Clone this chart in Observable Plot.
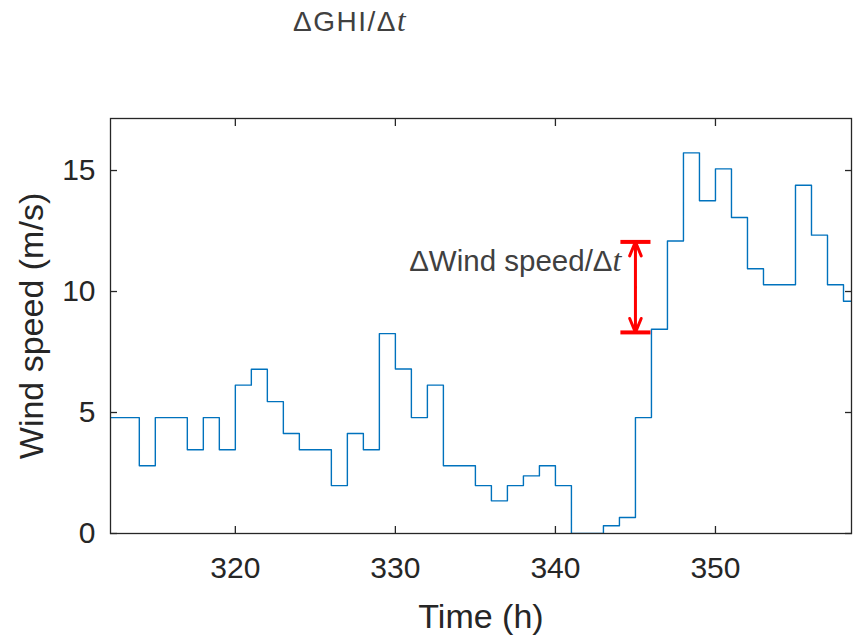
<!DOCTYPE html>
<html>
<head>
<meta charset="utf-8">
<script src="https://cdn.jsdelivr.net/npm/d3@7"></script>
<script src="https://cdn.jsdelivr.net/npm/@observablehq/plot@0.6"></script>
<style>
  html, body { margin: 0; padding: 0; background: #fff; }
  #wrap { position: relative; width: 854px; height: 637px; overflow: hidden; }
  #title { position: absolute; left: 293px; top: 3px; font-family: "Liberation Sans", Arial, sans-serif; font-size: 28px; color: #404040; white-space: nowrap; letter-spacing: 1.5px; }
  #title i { font-family: "Liberation Serif", "Times New Roman", serif; font-style: italic; font-size: 31px; }
  #chart { position: absolute; left: 0; top: 40px; }
</style>
</head>
<body>
<div id="wrap">
  <div id="title">ΔGHI/Δ<i>t</i></div>
  <div id="chart"></div>
</div>
<script>
// Hourly wind speed (step-after), m/s
const hours = [312,313,314,315,316,317,318,319,320,321,322,323,324,325,326,327,328,329,330,331,332,333,334,335,336,337,338,339,340,341,342,343,344,345,346,347,348,349,350,351,352,353,354,355,356,357,358,359];
const windSpeed = [4.79,4.79,2.80,4.79,4.79,3.46,4.79,3.46,6.13,6.79,5.45,4.13,3.46,3.46,1.98,4.13,3.46,8.26,6.80,4.79,6.13,2.80,2.80,1.98,1.35,1.98,2.38,2.80,1.98,0,0,0.32,0.66,4.79,8.44,12.09,15.73,13.75,15.07,13.06,10.94,10.28,10.28,14.39,12.33,10.28,9.60,9.60];

const xTicks = [320, 330, 340, 350];
const yTicks = [0, 5, 10, 15];

// Annotation (ΔWind speed / Δt)
const arrowX = 345;
const arrowTop = 12.05;
const arrowBottom = 8.31;
const arrowHalfWidth = 0.94;
const annotationLabel = "ΔWind speed/Δt";

const data = hours.map((h, i) => ({hour: h, speed: windSpeed[i]}));
const arrowMid = (arrowTop + arrowBottom) / 2;
const bars = [{x1: arrowX - arrowHalfWidth, x2: arrowX + arrowHalfWidth, y: arrowTop},
              {x1: arrowX - arrowHalfWidth, x2: arrowX + arrowHalfWidth, y: arrowBottom}];
const arrows = [{x: arrowX, y1: arrowMid, y2: arrowTop}, {x: arrowX, y1: arrowMid, y2: arrowBottom}];

const axisColor = "#262626";

const chart = Plot.plot({
  width: 854,
  height: 597,
  marginTop: 78,
  marginLeft: 110,
  marginRight: 3,
  marginBottom: 104,
  style: {fontFamily: "'Liberation Sans', Arial, sans-serif", color: axisColor, background: "white", overflow: "visible"},
  x: {domain: [312.2, 358.5]},
  y: {domain: [0, 17.15]},
  marks: [
    Plot.line(data, {x: "hour", y: "speed", curve: "step-after", stroke: "#0072BD", strokeWidth: 1.4, clip: true}),
    Plot.link(bars, {x1: "x1", x2: "x2", y1: "y", y2: "y", stroke: "#FF0000", strokeWidth: 4}),
    Plot.arrow(arrows, {x: "x", y1: "y1", y2: "y2", stroke: "#FF0000", strokeWidth: 3, headLength: 12, headAngle: 45}),
    Plot.text([annotationLabel], {x: () => arrowX, y: () => arrowTop, text: d => d, dx: -14, dy: 20, textAnchor: "end", lineAnchor: "middle", fontSize: 29.5, fill: "#404040"}),
    Plot.frame({stroke: axisColor, strokeWidth: 1.3}),
    Plot.axisX(xTicks, {anchor: "bottom", tickSize: -7, fill: "none", stroke: axisColor, strokeWidth: 1.3}),
    Plot.axisX(xTicks, {anchor: "top", tickSize: -7, fill: "none", stroke: axisColor, strokeWidth: 1.3}),
    Plot.axisY(yTicks, {anchor: "left", tickSize: -7, fill: "none", stroke: axisColor, strokeWidth: 1.3}),
    Plot.axisY(yTicks, {anchor: "right", tickSize: -7, fill: "none", stroke: axisColor, strokeWidth: 1.3}),
    Plot.axisX(xTicks, {anchor: "bottom", tickSize: 0, tickPadding: 23, fontSize: 30, label: null, fill: axisColor}),
    Plot.axisY(yTicks, {anchor: "left", tickSize: 0, tickPadding: 15, fontSize: 30, label: null, fill: axisColor}),
    Plot.text(["Time (h)"], {frameAnchor: "bottom", text: d => d, dy: 84, textAnchor: "middle", lineAnchor: "middle", fontSize: 34, fill: axisColor}),
    Plot.text(["Wind speed (m/s)"], {frameAnchor: "left", text: d => d, dx: -78, rotate: -90, textAnchor: "middle", lineAnchor: "middle", fontSize: 34, fill: axisColor})
  ]
});

// italic serif "t" in the annotation label
chart.querySelectorAll("text").forEach(t => {
  if (t.textContent === annotationLabel) {
    t.textContent = "";
    const a = document.createElementNS("http://www.w3.org/2000/svg", "tspan");
    a.textContent = "ΔWind speed/Δ";
    const b = document.createElementNS("http://www.w3.org/2000/svg", "tspan");
    b.textContent = "t";
    b.setAttribute("font-style", "italic");
    b.setAttribute("font-family", "'Liberation Serif', 'Times New Roman', serif");
    b.setAttribute("font-size", "32");
    t.appendChild(a);
    t.appendChild(b);
  }
});

document.getElementById("chart").appendChild(chart);
</script>
</body>
</html>
